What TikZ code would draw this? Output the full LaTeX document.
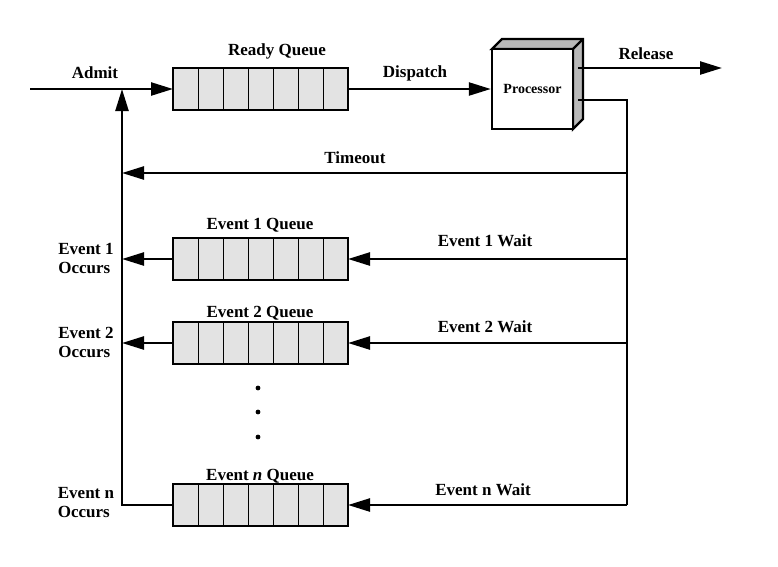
\documentclass[tikz,border=0pt]{standalone}
\usepackage{fontspec}
\setmainfont{Liberation Serif}
\usetikzlibrary{arrows.meta}
\begin{document}
\begin{tikzpicture}[x=1pt,y=-1pt,
  ln/.style={line width=2.4pt},
  ar/.style={ln,-{Triangle[length=22pt,width=13pt]}},
  lbl/.style={font=\fontsize{17}{19}\selectfont\bfseries},
  cell/.style={draw,line width=1pt,fill=gray!22,minimum width=25pt,minimum height=41pt,inner sep=0pt}]
\useasboundingbox (0,0) rectangle (778,566);
\newcommand{\queue}[2]{%
  \foreach \i in {0,...,6}{\node[cell,anchor=west] (#1c\i) at ({173+25*\i},#2) {};}
  \draw[line width=2.6pt] (173,#2-21) rectangle (348,#2+21);
  \coordinate (#1L) at (173,#2); \coordinate (#1R) at (348,#2);}
\queue{rq}{89}
\queue{qa}{259}
\queue{qb}{343}
\queue{qn}{505}
% processor
\filldraw[ln,fill=gray!55] (492,49) -- (502,39) -- (583,39) -- (583,119) -- (573,129) -- (573,49) -- cycle;
\draw[ln] (573,49) -- (583,39);
\node[draw,line width=2.4pt,fill=white,minimum width=81pt,minimum height=80pt,inner sep=0pt,font=\fontsize{14}{15}\selectfont\bfseries] (proc) at (532.5,89) {Processor};
\coordinate (adm) at (30,89);
\coordinate (j) at (122,89);
\draw[ar] (adm) -- (rqL);
\draw[ar] (rqR) -- (proc.west);
\coordinate (rel) at (578,68);
\coordinate (relend) at (722,68);
\draw[ar] (rel) -- (relend);
\coordinate (o) at (578,100);
\coordinate (c) at (627,100);
\coordinate (cb) at (627,505);
\draw[ln] (o) -- (c) -- (cb);
\draw[ar] (cb) -- (qnR);
\draw[ar] (627,173) -- (122,173);
\draw[ar] (627,259) -- (qaR);
\draw[ar] (627,343) -- (qbR);
\draw[ar] (qaL) -- (122,259);
\draw[ar] (qbL) -- (122,343);
\draw[ln] (qnL) -- (122,505) -- (122,110);
\draw[ar] (122,110) -- (j);
\node[lbl] (t1) at (95,73) {Admit};
\node[lbl] (t2) at (277,51) {Ready Queue};
\node[lbl] (t3) at (415,73) {Dispatch};
\node[lbl] (t4) at (646,54) {Release};
\node[lbl] (t5) at (355,158) {Timeout};
\node[lbl] (t6) at (260,225) {Event 1 Queue};
\node[lbl] (t7) at (485,241) {Event 1 Wait};
\node[lbl] (t8) at (260,313) {Event 2 Queue};
\node[lbl] (t9) at (485,327) {Event 2 Wait};
\node[lbl] (t10) at (260,476) {Event \textit{n} Queue};
\node[lbl] (t11) at (483,490) {Event n Wait};
\node[lbl,align=left] (o1) at (86,258) {Event 1\\Occurs};
\node[lbl,align=left] (o2) at (86,342) {Event 2\\Occurs};
\node[lbl,align=left] (o3) at (86,503) {Event n\\Occurs};
\foreach \y/\n in {388/d1,412/d2,437/d3}{\fill (258,\y) circle (2.4pt) coordinate (\n);}
\end{tikzpicture}
\end{document}
